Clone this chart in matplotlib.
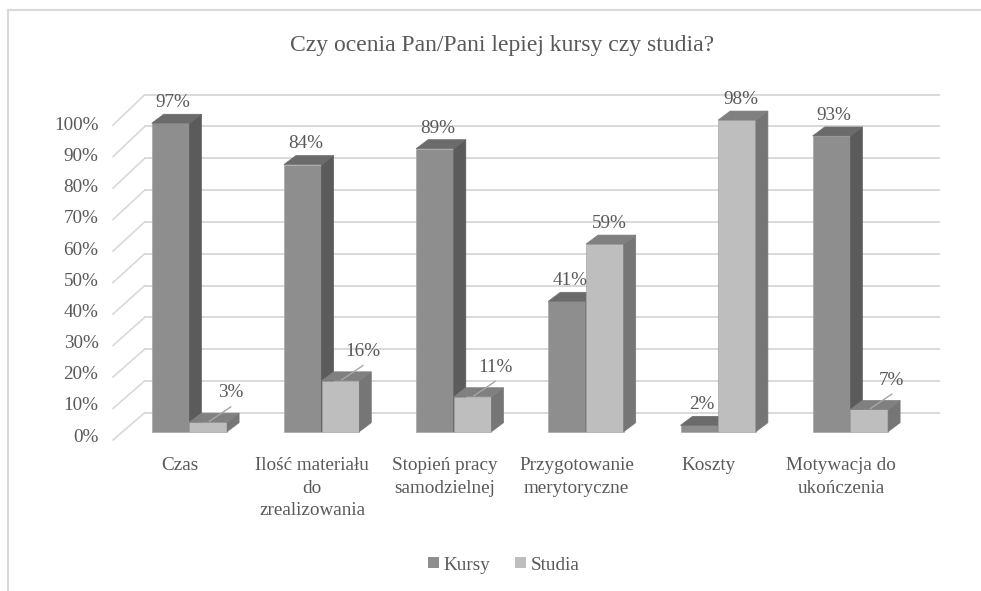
import matplotlib.pyplot as plt
from matplotlib.patches import Polygon, Patch
from matplotlib.lines import Line2D

plt.rcParams['font.family'] = ['Liberation Serif', 'DejaVu Serif']

title = 'Czy ocenia Pan/Pani lepiej kursy czy studia?'
categories = ['Czas', 'Ilość materiału\ndo\nzrealizowania', 'Stopień pracy\nsamodzielnej',
              'Przygotowanie\nmerytoryczne', 'Koszty', 'Motywacja do\nukończenia']
kursy = [97, 84, 89, 41, 2, 93]
studia = [3, 16, 11, 59, 98, 7]
yticks = [0, 10, 20, 30, 40, 50, 60, 70, 80, 90, 100]
series_names = ['Kursy', 'Studia']

TXT = '#595959'
GRID = '#d9d9d9'
FS = 13.8
# front / side / top shades for the fake 3d columns
KURSY_C = ('#8e8e8e', '#5b5b5b', '#6b6b6b')
STUDIA_C = ('#bebebe', '#767676', '#808080')

# pixel layout of the figure: x unit = one category, y unit = one percent
W, H = 981, 591
X0, XSTEP = 180.0, 132.2
Y0, YSTEP = 431.7, 3.18

fig = plt.figure(figsize=(W / 100, H / 100), dpi=100)
ax = fig.add_axes([0, 0, 1, 1])
ax.set_xlim(-X0 / XSTEP, (W - X0) / XSTEP)
ax.set_ylim((Y0 - H) / YSTEP, Y0 / YSTEP)
ax.axis('off')

bw = 37.7 / XSTEP          # column width
bleft = -28.3 / XSTEP      # left edge of first column relative to category
ddx, ddy = 12 / XSTEP, 9 / YSTEP          # column depth
wdx, wdy = 22 / XSTEP, 19 / YSTEP         # back wall offset
wall_x0 = (144.7 - X0) / XSTEP
wall_x1 = (939.3 - X0) / XSTEP
side_x = (113 - X0) / XSTEP

# back wall gridlines + side wall diagonals
for p in yticks:
    ax.plot([wall_x0, wall_x1], [p + wdy, p + wdy], color=GRID, lw=1.4, zorder=1)
    ax.plot([side_x, wall_x0], [0.99 * p - 2.6, p + wdy], color=GRID, lw=1.2, zorder=1)
    ax.text(side_x - 0.11, 0.98 * p - 1.7, f'{p}%', ha='right', va='center',
            fontsize=FS, color=TXT)


def column(x, h, cols):
    front, side, top = cols
    ax.add_patch(Polygon([(x, 0), (x + bw, 0), (x + bw, h), (x, h)],
                         fc=front, ec='#a6a6a6', lw=0.5, zorder=3))
    ax.add_patch(Polygon([(x + bw, 0), (x + bw + ddx, ddy), (x + bw + ddx, h + ddy), (x + bw, h)],
                         fc=side, ec=side, lw=0.5, zorder=3))
    ax.add_patch(Polygon([(x, h), (x + bw, h), (x + bw + ddx, h + ddy), (x + ddx, h + ddy)],
                         fc=top, ec=top, lw=0.5, zorder=3))


for i, cat in enumerate(categories):
    xk = i + bleft
    xs = xk + bw
    column(xk, kursy[i], KURSY_C)
    column(xs, studia[i], STUDIA_C)

    ax.text(xk + bw / 2 + 0.02, kursy[i] + 6.5, f'{kursy[i]}%', ha='center', va='center',
            fontsize=FS, color=TXT, zorder=5)
    cs = xs + bw / 2
    if studia[i] < 20:
        ax.plot([cs + 0.01, cs + 0.17], [studia[i] + 0.3, studia[i] + 4.8],
                color='#a6a6a6', lw=1, zorder=4)
        ax.text(cs + 0.17, studia[i] + 9.2, f'{studia[i]}%', ha='center', va='center',
                fontsize=FS, color=TXT, zorder=5)
    else:
        ax.text(cs + 0.03, studia[i] + 6.5, f'{studia[i]}%', ha='center', va='center',
                fontsize=FS, color=TXT, zorder=5)

    ax.text(i, -8.0, cat, ha='center', va='top', fontsize=FS, color=TXT, linespacing=1.42)

fig.text(502 / W, 1 - 46 / H, title, ha='center', va='center', fontsize=17, color=TXT)

handles = [Patch(fc=KURSY_C[0]), Patch(fc=STUDIA_C[0])]
fig.legend(handles, series_names, loc='center', bbox_to_anchor=(504 / W, 1 - 565 / H),
           ncol=2, frameon=False, handlelength=0.55, handleheight=0.55, handletextpad=0.25,
           columnspacing=1.3, fontsize=FS, labelcolor=TXT)

# chart frame (cut by the image edges)
fig.add_artist(Line2D([8 / W, 8 / W], [0, 1 - 10 / H], transform=fig.transFigure, color=GRID, lw=1.5))
fig.add_artist(Line2D([8 / W, 1], [1 - 10 / H, 1 - 10 / H], transform=fig.transFigure, color=GRID, lw=1.5))

fig.savefig('out.png', dpi=100, facecolor='white')
